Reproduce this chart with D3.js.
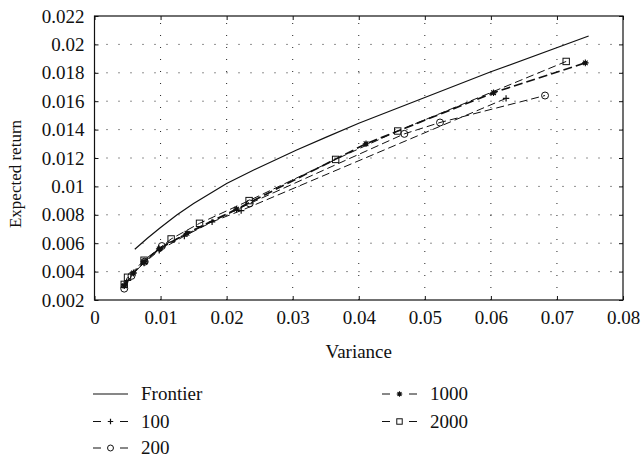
<!DOCTYPE html>
<html>
<head>
<meta charset="utf-8">
<script src="https://cdn.jsdelivr.net/npm/d3@7"></script>
<style>
  html, body { margin: 0; padding: 0; background: #fff; }
  svg { display: block; }
  svg text { font-family: "Liberation Serif", "Times New Roman", serif !important; fill: #111; }
</style>
</head>
<body>
<script>
// ---------------- data ----------------
const xTicks = [0, 0.01, 0.02, 0.03, 0.04, 0.05, 0.06, 0.07, 0.08];
const xTickLabels = ["0", "0.01", "0.02", "0.03", "0.04", "0.05", "0.06", "0.07", "0.08"];
const yTicks = [0.002, 0.004, 0.006, 0.008, 0.010, 0.012, 0.014, 0.016, 0.018, 0.020, 0.022];
const yTickLabels = ["0.002", "0.004", "0.006", "0.008", "0.01", "0.012", "0.014", "0.016", "0.018", "0.02", "0.022"];

const frontierVar = [0.0061, 0.0080, 0.0100, 0.0125, 0.0150, 0.0175, 0.0200, 0.0241, 0.0306, 0.0350, 0.0400, 0.0500, 0.0600, 0.0748];
const frontierRet = [0.00557, 0.00635, 0.00710, 0.00800, 0.00880, 0.00950, 0.01020, 0.01116, 0.01256, 0.01345, 0.01445, 0.01626, 0.01807, 0.02059];

const s100Var = [0.0045, 0.0059, 0.0075, 0.0098, 0.0136, 0.0178, 0.0222, 0.0623];
const s100Ret = [0.0031, 0.0039, 0.0046, 0.0055, 0.0065, 0.0075, 0.0083, 0.0162];

const s200Var = [0.0045, 0.0056, 0.0076, 0.0102, 0.0235, 0.0469, 0.0523, 0.0682];
const s200Ret = [0.0028, 0.0037, 0.0047, 0.0058, 0.0088, 0.0137, 0.0145, 0.0164];

const s1000Var = [0.0045, 0.0059, 0.0075, 0.0098, 0.0140, 0.0215, 0.0411, 0.0604, 0.0743];
const s1000Ret = [0.0030, 0.0039, 0.0047, 0.0056, 0.0067, 0.0084, 0.0130, 0.0166, 0.0187];

const s2000Var = [0.0045, 0.0050, 0.0075, 0.0116, 0.0159, 0.0234, 0.0365, 0.0459, 0.0714];
const s2000Ret = [0.0031, 0.0036, 0.0048, 0.0063, 0.0074, 0.0090, 0.0119, 0.0139, 0.0188];

const seriesNames = ["Frontier", "100", "200", "1000", "2000"];

// ---------------- setup ----------------
const W = 642, H = 460;
const FONT = '"Liberation Serif", "Times New Roman", serif';
const svg = d3.select("body").append("svg").attr("width", W).attr("height", H)
  .attr("font-family", FONT);

const x = d3.scaleLinear().domain([0, 0.08]).range([94.5, 623]);
const y = d3.scaleLinear().domain([0.002, 0.022]).range([300, 16]);

const FS = 19;

// grid (dotted)
const grid = svg.append("g");
grid.selectAll("line.vg").data(xTicks.slice(1, -1)).enter().append("line")
  .attr("x1", d => x(d)).attr("x2", d => x(d))
  .attr("y1", y(0.002)).attr("y2", y(0.022))
  .attr("stroke", "#222").attr("stroke-width", 1).attr("stroke-dasharray", "1,11");
grid.selectAll("line.hg").data(yTicks.slice(1, -1)).enter().append("line")
  .attr("x1", x(0)).attr("x2", x(0.08))
  .attr("y1", d => y(d)).attr("y2", d => y(d))
  .attr("stroke", "#222").attr("stroke-width", 1).attr("stroke-dasharray", "1,11");

// axes (labels + inward ticks)
const xAxis = d3.axisBottom(x).tickValues(xTicks)
  .tickFormat((d, i) => xTickLabels[i]).tickSizeInner(-4).tickSizeOuter(0).tickPadding(11);
svg.append("g").attr("transform", `translate(0,${y(0.002)})`).call(xAxis);
const yAxis = d3.axisLeft(y).tickValues(yTicks)
  .tickFormat((d, i) => yTickLabels[i]).tickSizeInner(-4).tickSizeOuter(0).tickPadding(10);
svg.append("g").attr("transform", `translate(${x(0)},0)`).call(yAxis);
const xAxisTop = d3.axisTop(x).tickValues(xTicks).tickFormat("").tickSizeInner(-4).tickSizeOuter(0);
svg.append("g").attr("transform", `translate(0,${y(0.022)})`).call(xAxisTop);
const yAxisRight = d3.axisRight(y).tickValues(yTicks).tickFormat("").tickSizeInner(-4).tickSizeOuter(0);
svg.append("g").attr("transform", `translate(${x(0.08)},0)`).call(yAxisRight);

svg.selectAll("g").attr("font-family", FONT);
svg.selectAll(".domain").remove();
svg.selectAll(".tick line").attr("stroke", "#111");
svg.selectAll(".tick text").attr("font-family", FONT).style("font-size", FS + "px").attr("fill", "#111");

// frame
svg.append("rect")
  .attr("x", x(0)).attr("y", y(0.022))
  .attr("width", x(0.08) - x(0)).attr("height", y(0.002) - y(0.022))
  .attr("fill", "none").attr("stroke", "#111").attr("stroke-width", 1.2);

// axis titles
svg.append("text").attr("x", (x(0) + x(0.08)) / 2).attr("y", 358)
  .attr("text-anchor", "middle").attr("font-family", FONT).style("font-size", FS + "px").text("Variance");
svg.append("text").attr("transform", `translate(21,174) rotate(-90)`)
  .attr("text-anchor", "middle").attr("font-family", FONT).style("font-size", "17px").text("Expected return");

// ---------------- series ----------------
const line = d3.line().x(d => x(d[0])).y(d => y(d[1]));
const zip = (a, b) => a.map((v, i) => [v, b[i]]);

const series = [
  { name: seriesNames[0], pts: zip(frontierVar, frontierRet), dash: null, width: 1.2, marker: null },
  { name: seriesNames[1], pts: zip(s100Var, s100Ret), dash: "8,4", width: 1, marker: "plus" },
  { name: seriesNames[2], pts: zip(s200Var, s200Ret), dash: "8,4", width: 1, marker: "circle" },
  { name: seriesNames[3], pts: zip(s1000Var, s1000Ret), dash: "9,4", width: 1.7, marker: "star" },
  { name: seriesNames[4], pts: zip(s2000Var, s2000Ret), dash: "8,4", width: 1, marker: "square" }
];

function drawMarker(g, type, cx, cy, scale) {
  const s = scale || 1;
  if (type === "plus") {
    const r = 3.2 * s;
    g.append("path").attr("d", `M${cx - r},${cy}H${cx + r}M${cx},${cy - r}V${cy + r}`)
      .attr("stroke", "#111").attr("stroke-width", 1.2).attr("fill", "none");
  } else if (type === "circle") {
    g.append("circle").attr("cx", cx).attr("cy", cy).attr("r", 3.5 * s)
      .attr("fill", "none").attr("stroke", "#111").attr("stroke-width", 1);
  } else if (type === "square") {
    const r = 3.2 * s;
    g.append("rect").attr("x", cx - r).attr("y", cy - r).attr("width", 2 * r).attr("height", 2 * r)
      .attr("fill", "none").attr("stroke", "#111").attr("stroke-width", 1);
  } else if (type === "star") {
    const r = 3.3 * s;
    let d = "";
    for (let k = 0; k < 4; k++) {
      const a = k * Math.PI / 4;
      d += `M${cx - r * Math.cos(a)},${cy - r * Math.sin(a)}L${cx + r * Math.cos(a)},${cy + r * Math.sin(a)}`;
    }
    g.append("path").attr("d", d).attr("stroke", "#111").attr("stroke-width", 1.1).attr("fill", "none");
    g.append("circle").attr("cx", cx).attr("cy", cy).attr("r", 2.2 * s).attr("fill", "#111");
  }
}

const plot = svg.append("g");
series.forEach(s => {
  plot.append("path").datum(s.pts).attr("d", line)
    .attr("fill", "none").attr("stroke", "#111").attr("stroke-width", s.width)
    .attr("stroke-dasharray", s.dash);
});
series.forEach(s => {
  if (!s.marker) return;
  const g = plot.append("g");
  s.pts.forEach(p => drawMarker(g, s.marker, x(p[0]), y(p[1])));
});

// ---------------- legend ----------------
const legendPos = [
  { col: 0, row: 0 }, { col: 0, row: 1 }, { col: 0, row: 2 },
  { col: 1, row: 0 }, { col: 1, row: 1 }
];
const colX = [93, 382];
const rowY = [394, 421.5, 448];
const leg = svg.append("g");
series.forEach((s, i) => {
  const lx = colX[legendPos[i].col], ly = rowY[legendPos[i].row];
  if (s.marker) {
    leg.append("line").attr("x1", lx).attr("x2", lx + 8).attr("y1", ly).attr("y2", ly)
      .attr("stroke", "#111").attr("stroke-width", 1);
    leg.append("line").attr("x1", lx + 27).attr("x2", lx + 35).attr("y1", ly).attr("y2", ly)
      .attr("stroke", "#111").attr("stroke-width", 1);
    drawMarker(leg, s.marker, lx + 17.5, ly, 0.85);
  } else {
    leg.append("line").attr("x1", lx).attr("x2", lx + 35).attr("y1", ly).attr("y2", ly)
      .attr("stroke", "#111").attr("stroke-width", 1.2);
  }
  leg.append("text").attr("x", lx + 48).attr("y", ly).attr("dy", "0.33em")
    .attr("font-family", FONT).style("font-size", FS + "px").text(s.name);
});
</script>
</body>
</html>
